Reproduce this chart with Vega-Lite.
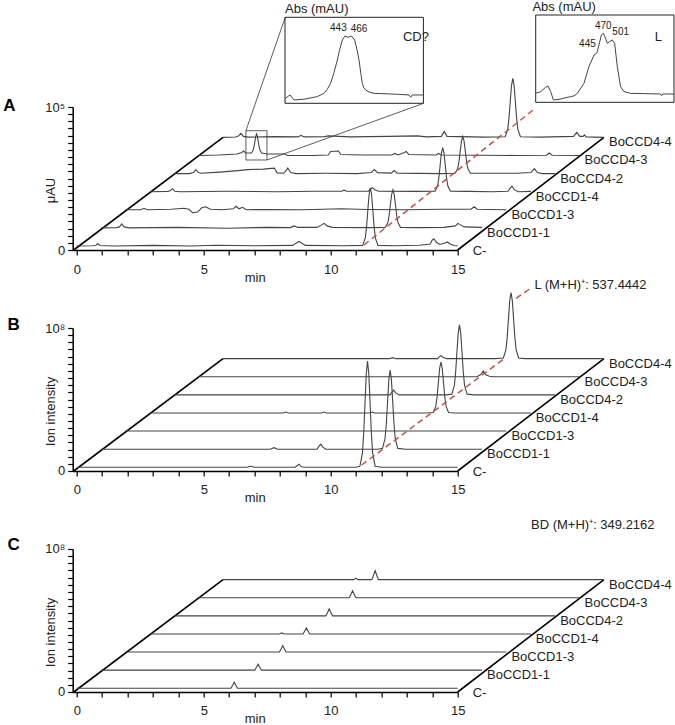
{
"$schema": "https://vega.github.io/schema/vega-lite/v6.json",
"background": "white",
"padding": {"left": 2.7, "top": 0, "right": 0, "bottom": 0},
"spacing": 78,
"bounds": "flush",
"config": {
  "font": "Liberation Sans",
  "view": {"stroke": null},
  "axis": {"grid": false, "domainColor": "#000", "domainWidth": 1.5, "tickColor": "#000", "tickWidth": 1.2, "tickSize": 5, "labelFont": "Liberation Sans", "labelFontSize": 13, "labelColor": "#222", "titleFont": "Liberation Sans", "titleFontSize": 13, "titleFontWeight": "normal", "titleColor": "#222", "labelOverlap": false, "labelFlush": false},
  "text": {"font": "Liberation Sans", "fontSize": 13, "color": "#222"}
},
"datasets": {
  "names": [{"k":0,"name":"C-"},{"k":1,"name":"BoCCD1-1"},{"k":2,"name":"BoCCD1-3"},{"k":3,"name":"BoCCD1-4"},{"k":4,"name":"BoCCD4-2"},{"k":5,"name":"BoCCD4-3"},{"k":6,"name":"BoCCD4-4"}],
  "A": [
    {"k":0,"t":0,"v":2800},{"k":0,"t":0.6,"v":3010},{"k":0,"t":0.75,"v":3150},{"k":0,"t":0.82,"v":4550},{"k":0,"t":0.9,"v":3150},{"k":0,"t":1.5,"v":2800},{"k":0,"t":3.0,"v":3220},{"k":0,"t":4.5,"v":2800},{"k":0,"t":5.5,"v":3290},{"k":0,"t":7.0,"v":2940},{"k":0,"t":8.5,"v":3220},{"k":0,"t":8.65,"v":4900},{"k":0,"t":8.75,"v":5950},{"k":0,"t":8.85,"v":4900},{"k":0,"t":9.0,"v":3220},{"k":0,"t":10.5,"v":3010},{"k":0,"t":11.26,"v":3220},{"k":0,"t":11.36,"v":8260},{"k":0,"t":11.41,"v":16030},{"k":0,"t":11.46,"v":27440},{"k":0,"t":11.51,"v":38640},{"k":0,"t":11.56,"v":43400},{"k":0,"t":11.61,"v":38640},{"k":0,"t":11.66,"v":27440},{"k":0,"t":11.71,"v":16030},{"k":0,"t":11.76,"v":8260},{"k":0,"t":11.86,"v":3220},{"k":0,"t":12.5,"v":3010},{"k":0,"t":13.5,"v":3360},{"k":0,"t":13.92,"v":4200},{"k":0,"t":14.0,"v":7000},{"k":0,"t":14.07,"v":7700},{"k":0,"t":14.15,"v":5600},{"k":0,"t":14.3,"v":3850},{"k":0,"t":14.5,"v":4900},{"k":0,"t":14.6,"v":5600},{"k":0,"t":14.7,"v":4200},{"k":0,"t":14.85,"v":3150},{"k":0,"t":15,"v":3010},
    {"k":1,"t":0,"v":2800},{"k":1,"t":0.6,"v":3010},{"k":1,"t":0.72,"v":3500},{"k":1,"t":0.81,"v":5600},{"k":1,"t":0.9,"v":3500},{"k":1,"t":1.1,"v":2800},{"k":1,"t":3,"v":3150},{"k":1,"t":5,"v":2590},{"k":1,"t":6.5,"v":3150},{"k":1,"t":7.45,"v":3010},{"k":1,"t":7.6,"v":4200},{"k":1,"t":7.75,"v":3150},{"k":1,"t":8.5,"v":3150},{"k":1,"t":8.68,"v":4900},{"k":1,"t":8.78,"v":5950},{"k":1,"t":8.9,"v":4200},{"k":1,"t":9.1,"v":3150},{"k":1,"t":10.5,"v":3010},{"k":1,"t":11.19,"v":3080},{"k":1,"t":11.29,"v":6370},{"k":1,"t":11.34,"v":11480},{"k":1,"t":11.39,"v":18970},{"k":1,"t":11.44,"v":26250},{"k":1,"t":11.49,"v":29400},{"k":1,"t":11.54,"v":26250},{"k":1,"t":11.59,"v":18970},{"k":1,"t":11.64,"v":11480},{"k":1,"t":11.69,"v":6370},{"k":1,"t":11.79,"v":3080},{"k":1,"t":12.5,"v":3010},{"k":1,"t":13.5,"v":3150},{"k":1,"t":13.95,"v":4200},{"k":1,"t":14.05,"v":5950},{"k":1,"t":14.15,"v":4900},{"k":1,"t":14.3,"v":3500},{"k":1,"t":15,"v":3150},
    {"k":2,"t":0,"v":2800},{"k":2,"t":0.6,"v":2800},{"k":2,"t":0.73,"v":3850},{"k":2,"t":0.85,"v":2800},{"k":2,"t":1.8,"v":3150},{"k":2,"t":2.3,"v":3850},{"k":2,"t":2.5,"v":3150},{"k":2,"t":2.65,"v":700},{"k":2,"t":2.85,"v":1400},{"k":2,"t":3.0,"v":4200},{"k":2,"t":3.15,"v":4900},{"k":2,"t":3.35,"v":3150},{"k":2,"t":3.8,"v":2800},{"k":2,"t":4.25,"v":3500},{"k":2,"t":4.35,"v":5250},{"k":2,"t":4.47,"v":3500},{"k":2,"t":4.61,"v":4550},{"k":2,"t":4.75,"v":2800},{"k":2,"t":5.5,"v":3010},{"k":2,"t":7,"v":2800},{"k":2,"t":8.5,"v":3500},{"k":2,"t":9.5,"v":3010},{"k":2,"t":11,"v":2800},{"k":2,"t":12.5,"v":3150},{"k":2,"t":13.6,"v":3150},{"k":2,"t":13.73,"v":4900},{"k":2,"t":13.85,"v":3150},{"k":2,"t":14.3,"v":3010},{"k":2,"t":15,"v":2800},
    {"k":3,"t":0,"v":2800},{"k":3,"t":0.7,"v":3010},{"k":3,"t":0.8,"v":3500},{"k":3,"t":0.89,"v":4900},{"k":3,"t":0.98,"v":3150},{"k":3,"t":1.2,"v":2800},{"k":3,"t":3,"v":3150},{"k":3,"t":5,"v":2800},{"k":3,"t":6.5,"v":3150},{"k":3,"t":7.55,"v":3150},{"k":3,"t":7.65,"v":3850},{"k":3,"t":7.75,"v":3150},{"k":3,"t":8.6,"v":3150},{"k":3,"t":8.7,"v":4900},{"k":3,"t":8.77,"v":5600},{"k":3,"t":8.85,"v":4200},{"k":3,"t":9.0,"v":3150},{"k":3,"t":10.5,"v":3010},{"k":3,"t":11.23,"v":3080},{"k":3,"t":11.33,"v":6930},{"k":3,"t":11.38,"v":12810},{"k":3,"t":11.43,"v":21490},{"k":3,"t":11.48,"v":29960},{"k":3,"t":11.53,"v":33600},{"k":3,"t":11.58,"v":29960},{"k":3,"t":11.63,"v":21490},{"k":3,"t":11.68,"v":12810},{"k":3,"t":11.73,"v":6930},{"k":3,"t":11.83,"v":3080},{"k":3,"t":12.5,"v":3010},{"k":3,"t":13.5,"v":2800},{"k":3,"t":14.1,"v":3150},{"k":3,"t":14.2,"v":5600},{"k":3,"t":14.26,"v":6650},{"k":3,"t":14.35,"v":4200},{"k":3,"t":14.5,"v":2800},{"k":3,"t":15,"v":3010},
    {"k":4,"t":0,"v":2800},{"k":4,"t":0.6,"v":2800},{"k":4,"t":0.75,"v":3500},{"k":4,"t":0.85,"v":5600},{"k":4,"t":0.95,"v":3500},{"k":4,"t":1.05,"v":3010},{"k":4,"t":1.8,"v":3850},{"k":4,"t":2.5,"v":4900},{"k":4,"t":2.9,"v":5600},{"k":4,"t":3.5,"v":5950},{"k":4,"t":3.94,"v":6650},{"k":4,"t":4.05,"v":3290},{"k":4,"t":4.3,"v":3010},{"k":4,"t":4.4,"v":4900},{"k":4,"t":4.47,"v":6650},{"k":4,"t":4.58,"v":3500},{"k":4,"t":4.8,"v":2800},{"k":4,"t":6,"v":3010},{"k":4,"t":7.2,"v":2800},{"k":4,"t":7.75,"v":3500},{"k":4,"t":7.88,"v":5600},{"k":4,"t":8.0,"v":3500},{"k":4,"t":8.55,"v":3150},{"k":4,"t":8.66,"v":4900},{"k":4,"t":8.78,"v":3150},{"k":4,"t":10.5,"v":2800},{"k":4,"t":11.06,"v":3080},{"k":4,"t":11.16,"v":6300},{"k":4,"t":11.21,"v":11200},{"k":4,"t":11.26,"v":18550},{"k":4,"t":11.31,"v":25620},{"k":4,"t":11.36,"v":28700},{"k":4,"t":11.41,"v":25620},{"k":4,"t":11.46,"v":18550},{"k":4,"t":11.51,"v":11200},{"k":4,"t":11.56,"v":6300},{"k":4,"t":11.66,"v":3080},{"k":4,"t":12.5,"v":3010},{"k":4,"t":13.5,"v":3010},{"k":4,"t":14.05,"v":3500},{"k":4,"t":14.18,"v":6300},{"k":4,"t":14.3,"v":3500},{"k":4,"t":14.5,"v":2800},{"k":4,"t":15,"v":2800},
    {"k":5,"t":0,"v":2800},{"k":5,"t":0.8,"v":3150},{"k":5,"t":1.5,"v":3850},{"k":5,"t":1.7,"v":4900},{"k":5,"t":1.77,"v":5950},{"k":5,"t":1.85,"v":4550},{"k":5,"t":2.08,"v":4550},{"k":5,"t":2.14,"v":6300},{"k":5,"t":2.175,"v":8610},{"k":5,"t":2.21,"v":12040},{"k":5,"t":2.245,"v":15960},{"k":5,"t":2.28,"v":17850},{"k":5,"t":2.315,"v":15960},{"k":5,"t":2.35,"v":12040},{"k":5,"t":2.385,"v":8610},{"k":5,"t":2.42,"v":6300},{"k":5,"t":2.48,"v":4550},{"k":5,"t":2.7,"v":3850},{"k":5,"t":3.4,"v":3850},{"k":5,"t":3.5,"v":2800},{"k":5,"t":4.5,"v":2800},{"k":5,"t":5.1,"v":3150},{"k":5,"t":5.2,"v":5600},{"k":5,"t":5.5,"v":5950},{"k":5,"t":5.6,"v":3500},{"k":5,"t":6.5,"v":3150},{"k":5,"t":7.6,"v":3150},{"k":5,"t":7.72,"v":4200},{"k":5,"t":7.85,"v":3150},{"k":5,"t":8.1,"v":4900},{"k":5,"t":8.17,"v":5600},{"k":5,"t":8.27,"v":3500},{"k":5,"t":9.35,"v":3150},{"k":5,"t":9.45,"v":4200},{"k":5,"t":9.55,"v":3150},{"k":5,"t":11,"v":3010},{"k":5,"t":12.5,"v":2800},{"k":5,"t":13.7,"v":3010},{"k":5,"t":13.81,"v":4550},{"k":5,"t":13.92,"v":3010},{"k":5,"t":15,"v":2800},
    {"k":6,"t":0,"v":2800},{"k":6,"t":0.5,"v":3010},{"k":6,"t":0.62,"v":3850},{"k":6,"t":0.7,"v":5600},{"k":6,"t":0.8,"v":3500},{"k":6,"t":1.0,"v":3010},{"k":6,"t":2.0,"v":3360},{"k":6,"t":2.95,"v":3150},{"k":6,"t":3.07,"v":4200},{"k":6,"t":3.2,"v":3150},{"k":6,"t":4.0,"v":3360},{"k":6,"t":4.15,"v":3850},{"k":6,"t":5.0,"v":3150},{"k":6,"t":6.5,"v":3500},{"k":6,"t":7.66,"v":3850},{"k":6,"t":8.0,"v":3150},{"k":6,"t":8.6,"v":3500},{"k":6,"t":8.71,"v":7000},{"k":6,"t":8.82,"v":3500},{"k":6,"t":10.3,"v":3010},{"k":6,"t":11.11,"v":3220},{"k":6,"t":11.21,"v":8400},{"k":6,"t":11.26,"v":16240},{"k":6,"t":11.31,"v":27860},{"k":6,"t":11.36,"v":39200},{"k":6,"t":11.41,"v":44100},{"k":6,"t":11.46,"v":39200},{"k":6,"t":11.51,"v":27860},{"k":6,"t":11.56,"v":16240},{"k":6,"t":11.61,"v":8400},{"k":6,"t":11.71,"v":3220},{"k":6,"t":12.5,"v":3010},{"k":6,"t":13.8,"v":3500},{"k":6,"t":13.93,"v":6300},{"k":6,"t":14.05,"v":3500},{"k":6,"t":14.18,"v":3500},{"k":6,"t":14.23,"v":4550},{"k":6,"t":14.3,"v":3150},{"k":6,"t":15,"v":2800}
  ],
  "B": [
    {"k":0,"t":0,"v":2600000},{"k":0,"t":6.7,"v":2600000},{"k":0,"t":6.86,"v":3300000},{"k":0,"t":7.0,"v":2600000},{"k":0,"t":8.6,"v":2600000},{"k":0,"t":8.7,"v":4000000},{"k":0,"t":8.76,"v":4700000},{"k":0,"t":8.84,"v":2950000},{"k":0,"t":9.0,"v":2600000},{"k":0,"t":11.0,"v":2600000},{"k":0,"t":11.15,"v":3370000},{"k":0,"t":11.25,"v":12610000},{"k":0,"t":11.3,"v":26750000},{"k":0,"t":11.35,"v":47610000},{"k":0,"t":11.4,"v":68050000},{"k":0,"t":11.45,"v":76800000},{"k":0,"t":11.5,"v":68050000},{"k":0,"t":11.55,"v":47610000},{"k":0,"t":11.6,"v":26750000},{"k":0,"t":11.65,"v":12610000},{"k":0,"t":11.75,"v":3370000},{"k":0,"t":12.0,"v":2600000},{"k":0,"t":15,"v":2600000},
    {"k":1,"t":0,"v":2600000},{"k":1,"t":6.65,"v":2600000},{"k":1,"t":6.81,"v":3650000},{"k":1,"t":6.95,"v":2600000},{"k":1,"t":8.5,"v":2600000},{"k":1,"t":8.58,"v":4700000},{"k":1,"t":8.65,"v":6100000},{"k":1,"t":8.73,"v":4000000},{"k":1,"t":8.85,"v":2600000},{"k":1,"t":10.9,"v":2600000},{"k":1,"t":11.08,"v":3160000},{"k":1,"t":11.18,"v":10090000},{"k":1,"t":11.23,"v":20590000},{"k":1,"t":11.28,"v":36200000},{"k":1,"t":11.33,"v":51390000},{"k":1,"t":11.38,"v":57900000},{"k":1,"t":11.43,"v":51390000},{"k":1,"t":11.48,"v":36200000},{"k":1,"t":11.53,"v":20590000},{"k":1,"t":11.58,"v":10090000},{"k":1,"t":11.68,"v":3160000},{"k":1,"t":12,"v":2600000},{"k":1,"t":15,"v":2600000},
    {"k":2,"t":0,"v":2600000},{"k":2,"t":15,"v":2600000},
    {"k":3,"t":0,"v":2600000},{"k":3,"t":5.25,"v":2600000},{"k":3,"t":5.34,"v":3300000},{"k":3,"t":5.45,"v":2600000},{"k":3,"t":6.75,"v":2600000},{"k":3,"t":6.85,"v":3300000},{"k":3,"t":6.95,"v":2600000},{"k":3,"t":8.65,"v":2600000},{"k":3,"t":8.75,"v":3300000},{"k":3,"t":8.85,"v":2600000},{"k":3,"t":10.9,"v":2600000},{"k":3,"t":11.16,"v":2950000},{"k":3,"t":11.26,"v":7360000},{"k":3,"t":11.31,"v":14150000},{"k":3,"t":11.36,"v":24160000},{"k":3,"t":11.41,"v":33890000},{"k":3,"t":11.46,"v":38090000},{"k":3,"t":11.51,"v":33890000},{"k":3,"t":11.56,"v":24160000},{"k":3,"t":11.61,"v":14150000},{"k":3,"t":11.66,"v":7360000},{"k":3,"t":11.76,"v":2950000},{"k":3,"t":12,"v":2600000},{"k":3,"t":15,"v":2600000},
    {"k":4,"t":0,"v":2600000},{"k":4,"t":8.5,"v":2600000},{"k":4,"t":8.58,"v":4700000},{"k":4,"t":8.64,"v":5890000},{"k":4,"t":8.72,"v":4000000},{"k":4,"t":8.85,"v":2600000},{"k":4,"t":10.7,"v":2600000},{"k":4,"t":10.93,"v":3090000},{"k":4,"t":11.03,"v":9250000},{"k":4,"t":11.08,"v":18560000},{"k":4,"t":11.13,"v":32350000},{"k":4,"t":11.18,"v":45790000},{"k":4,"t":11.23,"v":51600000},{"k":4,"t":11.28,"v":45790000},{"k":4,"t":11.33,"v":32350000},{"k":4,"t":11.38,"v":18560000},{"k":4,"t":11.43,"v":9250000},{"k":4,"t":11.53,"v":3090000},{"k":4,"t":11.8,"v":2600000},{"k":4,"t":15,"v":2600000},
    {"k":5,"t":0,"v":2600000},{"k":5,"t":10.95,"v":2600000},{"k":5,"t":11.1,"v":4000000},{"k":5,"t":11.21,"v":6590000},{"k":5,"t":11.3,"v":4000000},{"k":5,"t":11.45,"v":2950000},{"k":5,"t":11.6,"v":2600000},{"k":5,"t":15,"v":2600000},
    {"k":6,"t":0,"v":2600000},{"k":6,"t":6.55,"v":2600000},{"k":6,"t":6.68,"v":3300000},{"k":6,"t":6.8,"v":2600000},{"k":6,"t":8.45,"v":2600000},{"k":6,"t":8.52,"v":4000000},{"k":6,"t":8.58,"v":4700000},{"k":6,"t":8.66,"v":3650000},{"k":6,"t":8.8,"v":2600000},{"k":6,"t":10.7,"v":2600000},{"k":6,"t":11.04,"v":3090000},{"k":6,"t":11.14,"v":8830000},{"k":6,"t":11.19,"v":17650000},{"k":6,"t":11.24,"v":30600000},{"k":6,"t":11.29,"v":43340000},{"k":6,"t":11.34,"v":48800000},{"k":6,"t":11.39,"v":43340000},{"k":6,"t":11.44,"v":30600000},{"k":6,"t":11.49,"v":17650000},{"k":6,"t":11.54,"v":8830000},{"k":6,"t":11.64,"v":3090000},{"k":6,"t":11.9,"v":2600000},{"k":6,"t":15,"v":2600000}
  ],
  "C": [
    {"k":0,"t":0,"v":2600000},{"k":0,"t":6.07,"v":2600000},{"k":0,"t":6.15,"v":5120000},{"k":0,"t":6.2,"v":6800000},{"k":0,"t":6.25,"v":5120000},{"k":0,"t":6.33,"v":2600000},{"k":0,"t":15,"v":2600000},
    {"k":1,"t":0,"v":2600000},{"k":1,"t":6.05,"v":2600000},{"k":1,"t":6.13,"v":5120000},{"k":1,"t":6.18,"v":6800000},{"k":1,"t":6.23,"v":5120000},{"k":1,"t":6.31,"v":2600000},{"k":1,"t":15,"v":2600000},
    {"k":2,"t":0,"v":2600000},{"k":2,"t":6.06,"v":2600000},{"k":2,"t":6.14,"v":5330000},{"k":2,"t":6.19,"v":7150000},{"k":2,"t":6.24,"v":5330000},{"k":2,"t":6.32,"v":2600000},{"k":2,"t":15,"v":2600000},
    {"k":3,"t":0,"v":2600000},{"k":3,"t":5.1,"v":2600000},{"k":3,"t":5.19,"v":3300000},{"k":3,"t":5.28,"v":2600000},{"k":3,"t":6.03,"v":2600000},{"k":3,"t":6.11,"v":5120000},{"k":3,"t":6.16,"v":6800000},{"k":3,"t":6.21,"v":5120000},{"k":3,"t":6.29,"v":2600000},{"k":3,"t":15,"v":2600000},
    {"k":4,"t":0,"v":2600000},{"k":4,"t":5.97,"v":2600000},{"k":4,"t":6.05,"v":5540000},{"k":4,"t":6.1,"v":7500000},{"k":4,"t":6.15,"v":5540000},{"k":4,"t":6.23,"v":2600000},{"k":4,"t":15,"v":2600000},
    {"k":5,"t":0,"v":2600000},{"k":5,"t":5.93,"v":2600000},{"k":5,"t":6.01,"v":5540000},{"k":5,"t":6.06,"v":7500000},{"k":5,"t":6.11,"v":5540000},{"k":5,"t":6.19,"v":2600000},{"k":5,"t":15,"v":2600000},
    {"k":6,"t":0,"v":2600000},{"k":6,"t":5.15,"v":2600000},{"k":6,"t":5.23,"v":3650000},{"k":6,"t":5.31,"v":2600000},{"k":6,"t":5.86,"v":2600000},{"k":6,"t":5.94,"v":6380000},{"k":6,"t":5.99,"v":8900000},{"k":6,"t":6.04,"v":6380000},{"k":6,"t":6.12,"v":2600000},{"k":6,"t":15,"v":2600000}
  ]
},
"vconcat": [
  {
    "width": 385, "height": 143,
    "resolve": {"scale": {"x": "independent", "y": "independent"}},
    "layer": [
      {
        "encoding": {
          "x": {"field": "xp", "type": "quantitative", "scale": {"domain": [-0.16, 15], "nice": false, "zero": false},
                "axis": {"values": [0,1,2,3,4,5,6,7,8,9,10,11,12,13,14,15], "labelExpr": "datum.value % 5 === 0 ? datum.label : ''", "labelPadding": 8, "title": "min", "titleX": 182, "titleY": 21, "titleBaseline": "top"}},
          "y": {"field": "yp", "type": "quantitative", "scale": {"domain": [0, 100000], "nice": false, "zero": false},
                "axis": {"values": [0,5000,10000,15000,20000,25000,30000,35000,40000,45000,50000,55000,60000,65000,70000,75000,80000,85000,90000,95000,100000], "labelExpr": "datum.value === 0 ? '0' : (datum.value === 100000 ? '10⁵' : '')", "labelPadding": 3, "title": "μAU", "titleX": -15, "titleY": 83}}
        },
        "layer": [
          {"data": {"values": [{"s":"l","t":-0.12,"k":0,"v":0},{"s":"l","t":0,"k":6,"v":2800},{"s":"r","t":15,"k":0,"v":0},{"s":"r","t":15,"k":6,"v":2800}]},
           "transform": [{"calculate": "datum.t + 0.96*datum.k", "as": "xp"}, {"calculate": "datum.v + 12660*datum.k", "as": "yp"}],
           "mark": {"type": "line", "color": "#000", "strokeWidth": 1.6},
           "encoding": {"detail": {"field": "s", "type": "nominal"}}},
          {"data": {"name": "A"},
           "transform": [{"calculate": "datum.t + 0.96*datum.k", "as": "xp"}, {"calculate": "datum.v + 12660*datum.k", "as": "yp"}],
           "mark": {"type": "line", "color": "#444", "strokeWidth": 1.1},
           "encoding": {"detail": {"field": "k", "type": "nominal"}}},
          {"data": {"values": [{"t":11.31,"v":3500},{"t":17.97,"v":97900}]},
           "transform": [{"calculate": "datum.t", "as": "xp"}, {"calculate": "datum.v", "as": "yp"}],
           "mark": {"type": "line", "color": "#c0504d", "strokeWidth": 1.5, "strokeDash": [6, 4]}},
          {"data": {"values": [{"g":1,"t":6.66,"v":83430},{"g":1,"t":8.21,"v":162730},{"g":2,"t":7.49,"v":62940},{"g":2,"t":13.66,"v":102590}]},
           "transform": [{"calculate": "datum.t", "as": "xp"}, {"calculate": "datum.v", "as": "yp"}],
           "mark": {"type": "line", "color": "#333", "strokeWidth": 0.8},
           "encoding": {"detail": {"field": "g", "type": "nominal"}}},
          {"data": {"values": [{"t":6.66,"v":62940,"t2":7.49,"v2":83430}]},
           "transform": [{"calculate": "datum.t", "as": "xp"}, {"calculate": "datum.v", "as": "yp"}, {"calculate": "datum.t2", "as": "xp2"}, {"calculate": "datum.v2", "as": "yp2"}],
           "mark": {"type": "rect", "filled": false, "color": "#333", "strokeWidth": 0.8},
           "encoding": {"x2": {"field": "xp2"}, "y2": {"field": "yp2"}}},
          {"data": {"name": "names"},
           "transform": [{"filter": "datum.k > 0"}, {"calculate": "15 + 0.96*datum.k", "as": "xp"}, {"calculate": "2800 + 12660*datum.k", "as": "yp"}],
           "mark": {"type": "text", "align": "left", "baseline": "middle", "dx": 5, "dy": 5},
           "encoding": {"text": {"field": "name"}}},
          {"data": {"name": "names"},
           "transform": [{"filter": "datum.k == 0"}, {"calculate": "15 + 0.96*datum.k", "as": "xp"}, {"calculate": "2800 + 12660*datum.k", "as": "yp"}],
           "mark": {"type": "text", "align": "left", "baseline": "middle", "dx": 15, "dy": 5},
           "encoding": {"text": {"field": "name"}}},
          {"data": {"values": [{"t":-2.89,"v":101050,"s":"A"}]},
           "transform": [{"calculate": "datum.t", "as": "xp"}, {"calculate": "datum.v", "as": "yp"}],
           "mark": {"type": "text", "align": "left", "baseline": "middle", "fontSize": 17, "fontWeight": "bold", "color": "#000"},
           "encoding": {"text": {"field": "s"}}}
        ]
      },
      {
        "encoding": {
          "x": {"field": "nm", "type": "quantitative", "scale": {"domain": [240, 700], "range": [212.3, 350.7], "nice": false, "zero": false}, "axis": null},
          "y": {"field": "ab", "type": "quantitative", "scale": {"domain": [0, 100], "range": [-3.7, -89.7], "nice": false, "zero": false}, "axis": null}
        },
        "layer": [
          {"data": {"values": [{"nm":240,"ab":0,"nm2":700,"ab2":100}]},
           "mark": {"type": "rect", "filled": false, "color": "#222", "strokeWidth": 1},
           "encoding": {"x2": {"field": "nm2"}, "y2": {"field": "ab2"}}},
          {"data": {"values": [{"nm":240,"ab":5.5},{"nm":256.6,"ab":9.7},{"nm":270,"ab":3.9},{"nm":303,"ab":4.7},{"nm":347.5,"ab":7.8},{"nm":369.6,"ab":11.6},{"nm":380,"ab":16},{"nm":391.8,"ab":23.3},{"nm":403,"ab":36},{"nm":414,"ab":50.4},{"nm":422,"ab":63},{"nm":430.6,"ab":73.6},{"nm":439.4,"ab":78.3},{"nm":449.4,"ab":76.7},{"nm":460.5,"ab":78.3},{"nm":471.6,"ab":73.6},{"nm":479,"ab":63},{"nm":486,"ab":50.4},{"nm":492,"ab":35},{"nm":497,"ab":23.3},{"nm":502,"ab":18},{"nm":508,"ab":15.5},{"nm":520,"ab":13},{"nm":535.8,"ab":11.6},{"nm":613.4,"ab":10.5},{"nm":652,"ab":9.7},{"nm":657.7,"ab":7},{"nm":663,"ab":9.7},{"nm":700,"ab":9.7}]},
           "mark": {"type": "line", "color": "#444", "strokeWidth": 1}},
          {"data": {"values": [{"nm":240,"ab":109.3,"s":"Abs (mAU)"},{"nm":632,"ab":77.4,"s":"CD?"}]},
           "mark": {"type": "text", "align": "left", "baseline": "middle", "fontSize": 13},
           "encoding": {"text": {"field": "s"}}},
          {"data": {"values": [{"nm":417.5,"ab":87.2,"s":"443"},{"nm":486,"ab":86,"s":"466"}]},
           "mark": {"type": "text", "align": "center", "baseline": "middle", "fontSize": 10},
           "encoding": {"text": {"field": "s"}}}
        ]
      },
      {
        "encoding": {
          "x": {"field": "nm", "type": "quantitative", "scale": {"domain": [240, 700], "range": [463, 601.3], "nice": false, "zero": false}, "axis": null},
          "y": {"field": "ab", "type": "quantitative", "scale": {"domain": [0, 100], "range": [-4.7, -92], "nice": false, "zero": false}, "axis": null}
        },
        "layer": [
          {"data": {"values": [{"nm":240,"ab":0,"nm2":700,"ab2":100}]},
           "mark": {"type": "rect", "filled": false, "color": "#222", "strokeWidth": 1},
           "encoding": {"x2": {"field": "nm2"}, "y2": {"field": "ab2"}}},
          {"data": {"values": [{"nm":240,"ab":10.3},{"nm":256.6,"ab":12.2},{"nm":273,"ab":17.2},{"nm":281,"ab":18.7},{"nm":290,"ab":12.2},{"nm":298.7,"ab":2.7},{"nm":317.6,"ab":3.4},{"nm":356,"ab":6.5},{"nm":367.4,"ab":7.3},{"nm":378.5,"ab":10.3},{"nm":400.7,"ab":21.8},{"nm":417,"ab":40.8},{"nm":434,"ab":54.2},{"nm":442.8,"ab":56.1},{"nm":450.5,"ab":65.6},{"nm":458.3,"ab":77.1},{"nm":465,"ab":79},{"nm":472.6,"ab":73.3},{"nm":478,"ab":67.6},{"nm":486,"ab":69.5},{"nm":494.8,"ab":71.4},{"nm":502.6,"ab":67.6},{"nm":511.5,"ab":40.8},{"nm":522.5,"ab":17.9},{"nm":533.6,"ab":12.2},{"nm":555.8,"ab":10.3},{"nm":655.5,"ab":9.5},{"nm":659,"ab":7.6},{"nm":663,"ab":9.5},{"nm":700,"ab":9.5}]},
           "mark": {"type": "line", "color": "#444", "strokeWidth": 1}},
          {"data": {"values": [{"nm":229,"ab":109.5,"s":"Abs (mAU)"}]},
           "mark": {"type": "text", "align": "left", "baseline": "middle", "fontSize": 13},
           "encoding": {"text": {"field": "s"}}},
          {"data": {"values": [{"nm":648,"ab":75.1,"s":"L"}]},
           "mark": {"type": "text", "align": "center", "baseline": "middle", "fontSize": 13},
           "encoding": {"text": {"field": "s"}}},
          {"data": {"values": [{"nm":412,"ab":66.4,"s":"445"},{"nm":465,"ab":87.4,"s":"470"},{"nm":522.7,"ab":80.2,"s":"501"}]},
           "mark": {"type": "text", "align": "center", "baseline": "middle", "fontSize": 10},
           "encoding": {"text": {"field": "s"}}}
        ]
      }
    ]
  },
  {
    "width": 385, "height": 143,
    "encoding": {
      "x": {"field": "xp", "type": "quantitative", "scale": {"domain": [-0.16, 15], "nice": false, "zero": false},
            "axis": {"values": [0,1,2,3,4,5,6,7,8,9,10,11,12,13,14,15], "labelExpr": "datum.value % 5 === 0 ? datum.label : ''", "labelPadding": 8, "title": "min", "titleX": 182, "titleY": 21, "titleBaseline": "top"}},
      "y": {"field": "yp", "type": "quantitative", "scale": {"domain": [0, 100000000], "nice": false, "zero": false},
            "axis": {"values": [0,5000000,10000000,15000000,20000000,25000000,30000000,35000000,40000000,45000000,50000000,55000000,60000000,65000000,70000000,75000000,80000000,85000000,90000000,95000000,100000000], "labelExpr": "datum.value === 0 ? '0' : (datum.value === 100000000 ? '10⁸' : '')", "labelPadding": 3, "title": "Ion intensity", "titleX": -15, "titleY": 83}}
    },
    "layer": [
      {"data": {"values": [{"s":"l","t":-0.12,"k":0,"v":0},{"s":"l","t":0,"k":6,"v":2600000},{"s":"r","t":15,"k":0,"v":0},{"s":"r","t":15,"k":6,"v":2600000}]},
       "transform": [{"calculate": "datum.t + 0.96*datum.k", "as": "xp"}, {"calculate": "datum.v + 12660000*datum.k", "as": "yp"}],
       "mark": {"type": "line", "color": "#000", "strokeWidth": 1.6},
       "encoding": {"detail": {"field": "s", "type": "nominal"}}},
      {"data": {"name": "B"},
       "transform": [{"calculate": "datum.t + 0.96*datum.k", "as": "xp"}, {"calculate": "datum.v + 12660000*datum.k", "as": "yp"}],
       "mark": {"type": "line", "color": "#444", "strokeWidth": 1.1},
       "encoding": {"detail": {"field": "k", "type": "nominal"}}},
      {"data": {"values": [{"g":1,"t":11.22,"v":4200000},{"g":1,"t":16.9,"v":79500000},{"g":2,"t":17.3,"v":120800000},{"g":2,"t":17.82,"v":127100000}]},
       "transform": [{"calculate": "datum.t", "as": "xp"}, {"calculate": "datum.v", "as": "yp"}],
       "mark": {"type": "line", "color": "#c0504d", "strokeWidth": 1.5, "strokeDash": [6, 4]},
       "encoding": {"detail": {"field": "g", "type": "nominal"}}},
      {"data": {"name": "names"},
       "transform": [{"filter": "datum.k > 0"}, {"calculate": "15 + 0.96*datum.k", "as": "xp"}, {"calculate": "2600000 + 12660000*datum.k", "as": "yp"}],
       "mark": {"type": "text", "align": "left", "baseline": "middle", "dx": 5, "dy": 5},
       "encoding": {"text": {"field": "name"}}},
      {"data": {"name": "names"},
       "transform": [{"filter": "datum.k == 0"}, {"calculate": "15 + 0.96*datum.k", "as": "xp"}, {"calculate": "2600000 + 12660000*datum.k", "as": "yp"}],
       "mark": {"type": "text", "align": "left", "baseline": "middle", "dx": 15, "dy": 5},
       "encoding": {"text": {"field": "name"}}},
      {"data": {"values": [{"t":18.02,"v":130070000,"s":"L (M+H)⁺: 537.4442"}]},
       "transform": [{"calculate": "datum.t", "as": "xp"}, {"calculate": "datum.v", "as": "yp"}],
       "mark": {"type": "text", "align": "left", "baseline": "middle"},
       "encoding": {"text": {"field": "s"}}},
      {"data": {"values": [{"t":-2.73,"v":102100000,"s":"B"}]},
       "transform": [{"calculate": "datum.t", "as": "xp"}, {"calculate": "datum.v", "as": "yp"}],
       "mark": {"type": "text", "align": "left", "baseline": "middle", "fontSize": 17, "fontWeight": "bold", "color": "#000"},
       "encoding": {"text": {"field": "s"}}}
    ]
  },
  {
    "width": 385, "height": 143,
    "encoding": {
      "x": {"field": "xp", "type": "quantitative", "scale": {"domain": [-0.16, 15], "nice": false, "zero": false},
            "axis": {"values": [0,1,2,3,4,5,6,7,8,9,10,11,12,13,14,15], "labelExpr": "datum.value % 5 === 0 ? datum.label : ''", "labelPadding": 8, "title": "min", "titleX": 182, "titleY": 21, "titleBaseline": "top"}},
      "y": {"field": "yp", "type": "quantitative", "scale": {"domain": [0, 100000000], "nice": false, "zero": false},
            "axis": {"values": [0,5000000,10000000,15000000,20000000,25000000,30000000,35000000,40000000,45000000,50000000,55000000,60000000,65000000,70000000,75000000,80000000,85000000,90000000,95000000,100000000], "labelExpr": "datum.value === 0 ? '0' : (datum.value === 100000000 ? '10⁸' : '')", "labelPadding": 3, "title": "Ion intensity", "titleX": -15, "titleY": 83}}
    },
    "layer": [
      {"data": {"values": [{"s":"l","t":-0.12,"k":0,"v":0},{"s":"l","t":0,"k":6,"v":2600000},{"s":"r","t":15,"k":0,"v":0},{"s":"r","t":15,"k":6,"v":2600000}]},
       "transform": [{"calculate": "datum.t + 0.96*datum.k", "as": "xp"}, {"calculate": "datum.v + 12660000*datum.k", "as": "yp"}],
       "mark": {"type": "line", "color": "#000", "strokeWidth": 1.6},
       "encoding": {"detail": {"field": "s", "type": "nominal"}}},
      {"data": {"name": "C"},
       "transform": [{"calculate": "datum.t + 0.96*datum.k", "as": "xp"}, {"calculate": "datum.v + 12660000*datum.k", "as": "yp"}],
       "mark": {"type": "line", "color": "#444", "strokeWidth": 1.1},
       "encoding": {"detail": {"field": "k", "type": "nominal"}}},
      {"data": {"name": "names"},
       "transform": [{"filter": "datum.k > 0"}, {"calculate": "15 + 0.96*datum.k", "as": "xp"}, {"calculate": "2600000 + 12660000*datum.k", "as": "yp"}],
       "mark": {"type": "text", "align": "left", "baseline": "middle", "dx": 5, "dy": 5},
       "encoding": {"text": {"field": "name"}}},
      {"data": {"name": "names"},
       "transform": [{"filter": "datum.k == 0"}, {"calculate": "15 + 0.96*datum.k", "as": "xp"}, {"calculate": "2600000 + 12660000*datum.k", "as": "yp"}],
       "mark": {"type": "text", "align": "left", "baseline": "middle", "dx": 15, "dy": 5},
       "encoding": {"text": {"field": "name"}}},
      {"data": {"values": [{"t":17.89,"v":116800000,"s":"BD (M+H)⁺: 349.2162"}]},
       "transform": [{"calculate": "datum.t", "as": "xp"}, {"calculate": "datum.v", "as": "yp"}],
       "mark": {"type": "text", "align": "left", "baseline": "middle"},
       "encoding": {"text": {"field": "s"}}},
      {"data": {"values": [{"t":-2.73,"v":102800000,"s":"C"}]},
       "transform": [{"calculate": "datum.t", "as": "xp"}, {"calculate": "datum.v", "as": "yp"}],
       "mark": {"type": "text", "align": "left", "baseline": "middle", "fontSize": 17, "fontWeight": "bold", "color": "#000"},
       "encoding": {"text": {"field": "s"}}}
    ]
  }
]
}
